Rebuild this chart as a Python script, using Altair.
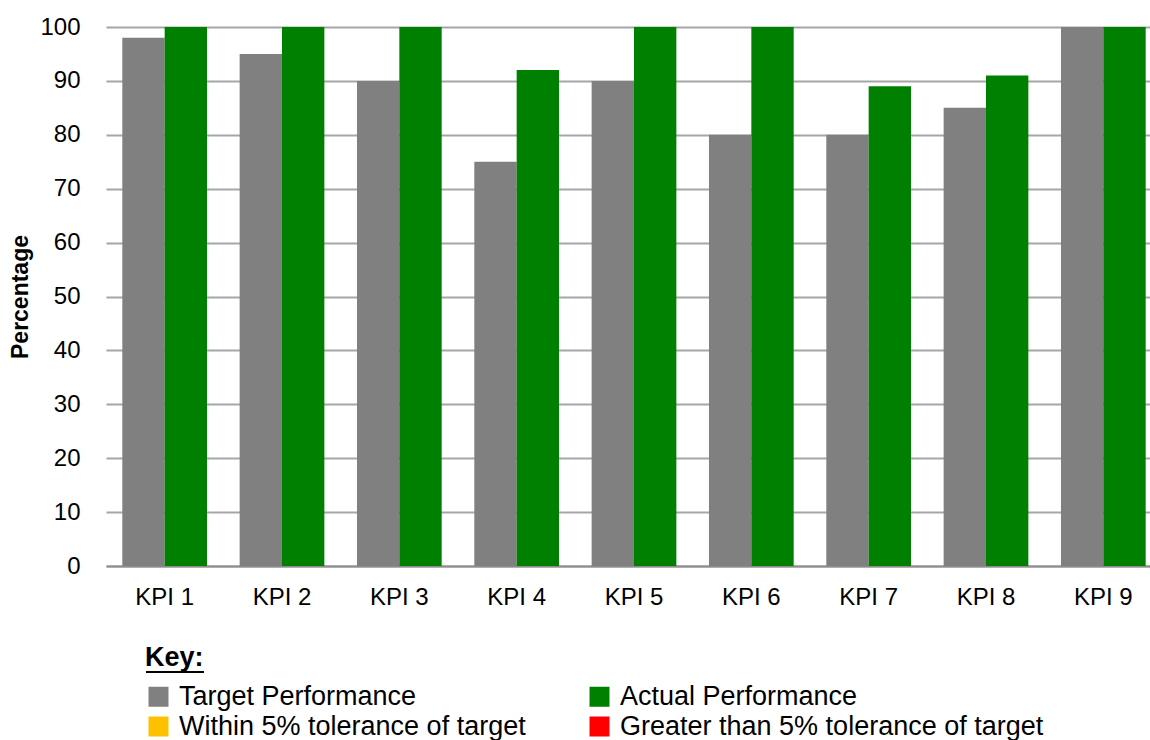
import altair as alt
import pandas as pd

# KPI scores (percent)
kpis = ["KPI 1", "KPI 2", "KPI 3", "KPI 4", "KPI 5", "KPI 6", "KPI 7", "KPI 8", "KPI 9"]
target = [98, 95, 90, 75, 90, 80, 80, 85, 100]
actual = [100, 100, 100, 92, 100, 100, 89, 91, 100]

key_labels = [
    "Target Performance",
    "Actual Performance",
    "Within 5% tolerance of target",
    "Greater than 5% tolerance of target",
]
key_colors = ["#808080", "#008000", "#FFC000", "#FF0000"]

rows = []
for k, t, a in zip(kpis, target, actual):
    rows.append({"kpi": k, "series": key_labels[0], "order": 0, "value": t})
    rows.append({"kpi": k, "series": key_labels[1], "order": 1, "value": a})
df = pd.DataFrame(rows)

FONT = "Liberation Sans"

bars = alt.Chart(df).mark_bar().encode(
    x=alt.X(
        "kpi:N",
        sort=kpis,
        title=None,
        scale=alt.Scale(range=[0, 1056], paddingInner=0.278, paddingOuter=0.139),
        axis=alt.Axis(
            labelAngle=0, labelFontSize=24, labelFont=FONT, labelColor="#000",
            labelPadding=19, ticks=False, domainColor="#8c8c8c", domainWidth=2,
            grid=False,
        ),
    ),
    xOffset=alt.XOffset("order:O", scale=alt.Scale(paddingInner=0, paddingOuter=0)),
    y=alt.Y(
        "value:Q",
        title="Percentage",
        scale=alt.Scale(domain=[0, 100], nice=False),
        axis=alt.Axis(
            values=list(range(0, 101, 10)), labelFontSize=24, labelFont=FONT,
            labelColor="#000", labelPadding=26, ticks=False, domain=False,
            gridColor="#a6a6a6", gridWidth=2,
            titleFont=FONT, titleFontSize=23, titleFontWeight="bold",
            titleColor="#000", titlePadding=7,
        ),
    ),
    color=alt.Color(
        "series:N",
        scale=alt.Scale(domain=key_labels, range=key_colors),
        legend=alt.Legend(
            title="Key:", titleFont=FONT, titleFontSize=27, titleFontWeight="bold",
            titleColor="#000", titlePadding=11,
            labelFont=FONT, labelFontSize=27, labelColor="#000", labelLimit=600,
            labelOffset=7,
            symbolType="square", symbolSize=400, symbolStrokeWidth=0,
            symbolOpacity=1, columns=2, columnPadding=60, rowPadding=2,
            orient="none", legendX=39, legendY=618, direction="horizontal",
        ),
    ),
)

# underline beneath the "Key:" heading
underline = alt.Chart(df).mark_rule(color="#000", strokeWidth=2).encode(
    x=alt.value(40), x2=alt.value(98), y=alt.value(645)
)

chart = alt.layer(bars, underline).properties(
    width=1044,
    height=539,
    autosize=alt.AutoSizeParams(type="none"),
    padding={"left": 106, "top": 27, "right": 0, "bottom": 174},
).configure_view(stroke=None)

chart.save("out.html", embed_options={"renderer": "svg", "actions": False})
